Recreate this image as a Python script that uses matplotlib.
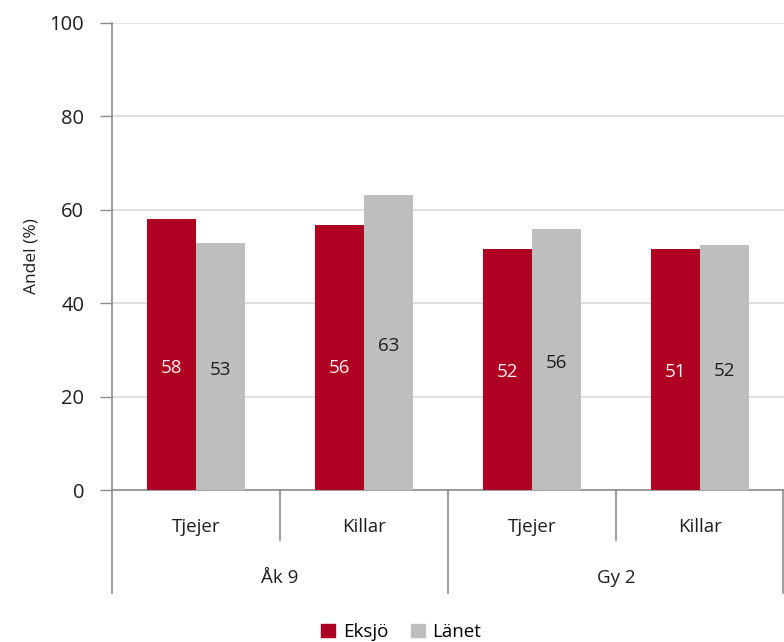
import matplotlib
matplotlib.use("Agg")
import matplotlib.pyplot as plt
from matplotlib.patches import Patch
from matplotlib.lines import Line2D

# ---- data ----
subcategories = ["Tjejer", "Killar", "Tjejer", "Killar"]
groups = ["Åk 9", "Gy 2"]
series_names = ["Eksjö", "Länet"]
eksjo = [58.0, 56.7, 51.6, 51.6]
lanet = [52.9, 63.2, 55.9, 52.5]
eksjo_labels = ["58", "56", "52", "51"]
lanet_labels = ["53", "63", "56", "52"]
yticks = [0, 20, 40, 60, 80, 100]

RED = "#AE0020"
GRAY = "#BEBEBE"
AXIS = "#8C8C8C"
GRID = "#D9D9D9"
TXT = "#1E1E1E"

plt.rcParams["font.family"] = ["Open Sans", "DejaVu Sans"]

fig = plt.figure(figsize=(7.84, 6.42), dpi=100)
ax = fig.add_axes([112/784, 1-490/642, 672/784, 467/642])

n = len(subcategories)
x = list(range(n))
w = 0.29
ax.bar([i - w/2 for i in x], eksjo, width=w, color=RED, zorder=3)
ax.bar([i + w/2 for i in x], lanet, width=w, color=GRAY, zorder=3)

for i in x:
    ax.text(i - w/2, min(eksjo[i]/2 - 0.6, 26.2), eksjo_labels[i], ha="center",
            va="center", color="#FFF0F2", fontsize=13.5)
    ax.text(i + w/2, lanet[i]/2 - 0.7, lanet_labels[i], ha="center", va="center",
            color=TXT, fontsize=13.5)

ax.set_xlim(-0.5, n - 0.5)
ax.set_ylim(0, 100)
ax.set_yticks(yticks)
ax.tick_params(axis="y", length=9, width=1, color=AXIS, labelsize=14.5, pad=11,
               labelcolor=TXT)
ax.set_xticks([])
for s in ["top", "right", "left"]:
    ax.spines[s].set_visible(False)
ax.spines["bottom"].set_color(AXIS)
ax.spines["bottom"].set_linewidth(1.2)
ax.yaxis.grid(True, color=GRID, linewidth=1.2, zorder=0)
ax.set_axisbelow(True)
ax.set_ylabel("Andel (%)", fontsize=12.5, color=TXT, labelpad=7)

trans = ax.get_xaxis_transform()
# left axis line extended down through the category area
ax.add_line(Line2D([-0.5, -0.5], [-0.221, 1.0], transform=trans, color=AXIS,
                   linewidth=1.2, clip_on=False))
# inner separators
for b in [0.5, 2.5]:
    ax.add_line(Line2D([b, b], [0, -0.107], transform=trans, color=AXIS,
                       linewidth=1.2, clip_on=False))
# group separators
for b in [1.5, 3.495]:
    ax.add_line(Line2D([b, b], [0, -0.221], transform=trans,
                       color=AXIS, linewidth=1.2, clip_on=False))
for i, lab in enumerate(subcategories):
    ax.text(i, -0.079, lab, transform=trans, ha="center", va="center",
            fontsize=13.5, color=TXT)
for g, lab in enumerate(groups):
    ax.text(2*g + 0.5, -0.188, lab, transform=trans, ha="center", va="center",
            fontsize=13.5, color=TXT)

handles = [Patch(color=RED), Patch(color=GRAY)]
fig.legend(handles, series_names, loc="center", bbox_to_anchor=(401/784, 1-632/642),
           ncol=2, frameon=False, fontsize=13.5, handlelength=0.75, handleheight=0.75,
           handletextpad=0.4, columnspacing=1.2)

fig.savefig("out.png", dpi=100)
